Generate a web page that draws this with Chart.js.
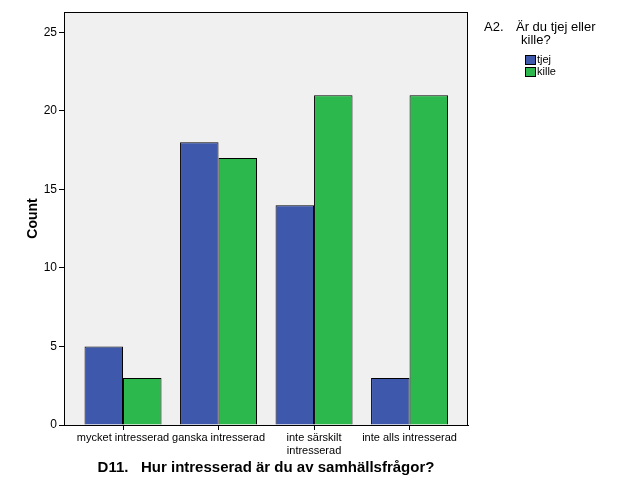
<!DOCTYPE html>
<html>
<head>
<meta charset="utf-8">
<script src="https://cdn.jsdelivr.net/npm/chart.js@4/dist/chart.umd.min.js"></script>
<style>
  html, body { margin: 0; padding: 0; background: #fff; }
  #wrap { width: 627px; height: 502px; position: relative; }
</style>
</head>
<body>
<div id="wrap"><canvas id="myChart"></canvas></div>
<script>
const categories = ['mycket intresserad', 'ganska intresserad', ['inte särskilt', 'intresserad'], 'inte alls intresserad'];
const tjej = [5, 18, 14, 3];
const kille = [3, 17, 21, 21];
const seriesNames = ['tjej', 'kille'];
const yTicks = [0, 5, 10, 15, 20, 25];

const FONT = 'Liberation Sans, Arial, sans-serif';

// grey plot background + frame round the plot
const plotFrame = {
    id: 'plotFrame',
    beforeDraw(chart) {
        const a = chart.chartArea, ctx = chart.ctx;
        ctx.save();
        ctx.fillStyle = '#f0f0f0';
        ctx.fillRect(a.left, a.top, a.right - a.left, a.bottom - a.top);
        ctx.restore();
    },
    afterDraw(chart) {
        const a = chart.chartArea, ctx = chart.ctx;
        ctx.save();
        ctx.strokeStyle = '#000';
        ctx.lineWidth = 1;
        ctx.strokeRect(a.left + 0.5, a.top + 0.5, a.right - a.left - 1, a.bottom - a.top);
        ctx.restore();
    }
};

// SPSS-like legend on the right
const sideLegend = {
    id: 'sideLegend',
    afterDraw(chart) {
        const ctx = chart.ctx;
        ctx.save();
        ctx.fillStyle = '#000';
        ctx.font = '13px ' + FONT;
        ctx.textBaseline = 'middle';
        ctx.fillText('A2.', 484, 27);
        ctx.fillText('Är du tjej eller', 516, 27);
        ctx.fillText('kille?', 521, 40);
        ctx.font = '11px ' + FONT;
        chart.data.datasets.forEach((ds, i) => {
            const y = 55 + i * 12;
            ctx.fillStyle = ds.backgroundColor;
            ctx.fillRect(525, y, 11, 10);
            ctx.strokeStyle = '#000';
            ctx.strokeRect(525.5, y + 0.5, 10, 9);
            ctx.fillStyle = '#000';
            ctx.fillText(ds.label, 537, y + 5);
        });
        ctx.restore();
    }
};

new Chart(document.getElementById('myChart'), {
    type: 'bar',
    data: {
        labels: categories,
        datasets: [
            { label: seriesNames[0], data: tjej, backgroundColor: '#3e58ac', borderColor: '#000', borderWidth: 1 },
            { label: seriesNames[1], data: kille, backgroundColor: '#2db84d', borderColor: '#000', borderWidth: 1 }
        ]
    },
    options: {
        responsive: true,
        maintainAspectRatio: false,
        animation: false,
        layout: { padding: { top: 12, right: 159, left: 0, bottom: 0 } },
        datasets: { bar: { categoryPercentage: 0.806, barPercentage: 1.0 } },
        plugins: {
            legend: { display: false },
            tooltip: { enabled: false }
        },
        scales: {
            x: {
                afterFit: s => { s.height = 77; },
                // extra room at both ends of the category axis, as in the original
                afterBuildTicks: s => { s._startValue = -0.618; s._valueRange = 4.23; },
                grid: { display: true, offset: false, drawOnChartArea: false, drawTicks: true, tickLength: 5, color: '#000' },
                border: { display: true, color: '#000' },
                ticks: { color: '#000', font: { family: FONT, size: 11 }, maxRotation: 0, autoSkip: false, padding: 1 },
                title: {
                    display: true,
                    text: 'D11.   Hur intresserad är du av samhällsfrågor?',
                    color: '#000',
                    font: { family: FONT, size: 15, weight: 'bold' },
                    padding: { top: 0, bottom: 25 }
                }
            },
            y: {
                min: 0,
                max: 26.3,
                afterFit: s => { s.width = 64; },
                afterBuildTicks: s => { s.ticks = yTicks.map(v => ({ value: v })); },
                grid: { display: true, drawOnChartArea: false, drawTicks: true, tickLength: 5, color: '#000' },
                border: { display: true, color: '#000' },
                ticks: { color: '#000', font: { family: FONT, size: 12 }, padding: 2 },
                title: {
                    display: true,
                    text: 'Count',
                    color: '#000',
                    font: { family: FONT, size: 14, weight: 'bold' },
                    padding: { top: 25, bottom: 0 }
                }
            }
        }
    },
    plugins: [plotFrame, sideLegend]
});
</script>
</body>
</html>
